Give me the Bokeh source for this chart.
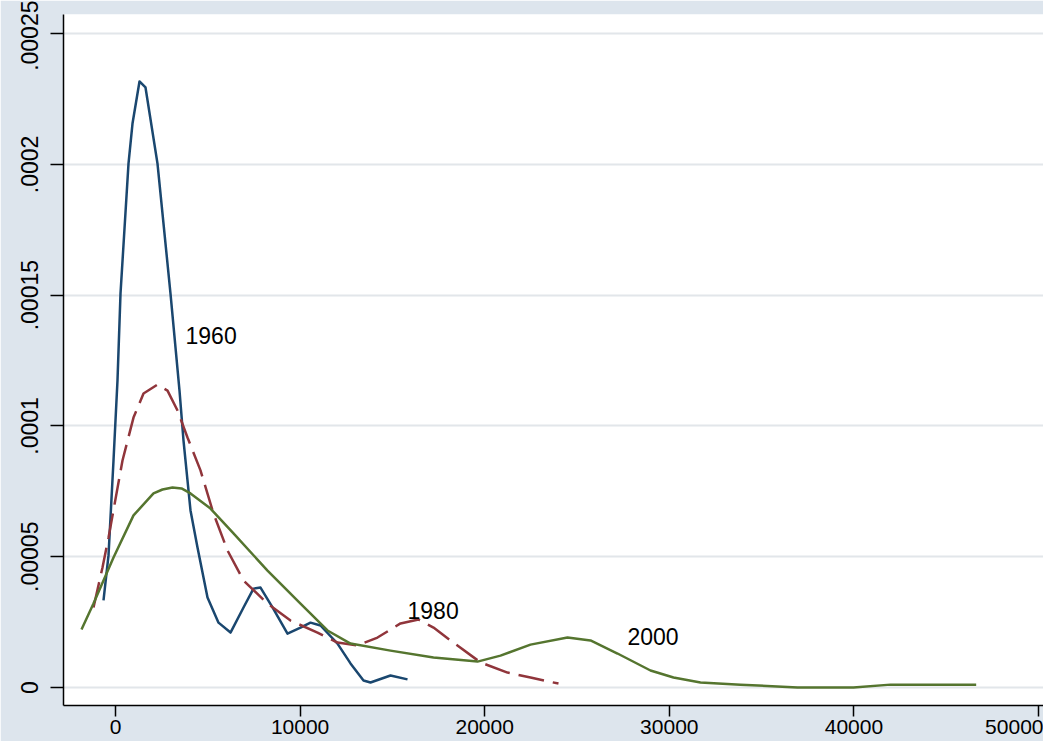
from bokeh.plotting import figure
from bokeh.models import ColumnDataSource, FixedTicker, Range1d
from bokeh.embed import file_html
from bokeh.resources import INLINE
from bokeh.core.properties import value

# ---- data ----
x1960 = [-650, -379, -108, 108, 271, 704, 921, 1300, 1625, 2275, 2979, 3467, 3684, 4063,
         4442, 4984, 5580, 6230, 6934, 7475, 7855, 8505, 9317, 10021, 10563, 11105,
         12026, 12730, 13434, 13813, 14897, 15818]
y1960 = [3.33e-5, 5.05e-5, 8.68e-5, 1.174e-4, 1.506e-4, 2.003e-4, 2.156e-4, 2.317e-4,
         2.294e-4, 2.003e-4, 1.506e-4, 1.135e-4, 9.44e-5, 6.77e-5, 5.35e-5, 3.44e-5,
         2.48e-5, 2.10e-5, 3.06e-5, 3.78e-5, 3.82e-5, 3.06e-5, 2.06e-5, 2.29e-5, 2.48e-5,
         2.37e-5, 1.68e-5, 9.2e-6, 2.7e-6, 1.9e-6, 4.6e-6, 3.1e-6]

x1980 = [-1192, -704, -379, 379, 975, 1517, 2275, 2817, 3359, 3900, 4604, 5309, 6067,
         6934, 8234, 9480, 10942, 12026, 13109, 14193, 15438, 16413, 17226, 18147,
         19772, 21235, 22481, 23997]
y1980 = [3.06e-5, 4.59e-5, 5.73e-5, 8.68e-5, 1.032e-4, 1.124e-4, 1.158e-4, 1.135e-4,
         1.059e-4, 9.56e-5, 8.30e-5, 6.65e-5, 5.24e-5, 4.09e-5, 3.21e-5, 2.56e-5,
         2.10e-5, 1.72e-5, 1.61e-5, 1.91e-5, 2.45e-5, 2.60e-5, 2.29e-5, 1.80e-5,
         9.6e-6, 5.7e-6, 3.8e-6, 1.5e-6]

x2000 = [-1842, -1192, -108, 975, 2058, 2546, 3088, 3575, 4063, 5146, 6392, 8234, 10021,
         11484, 12730, 14897, 17226, 19610, 20855, 22481, 24485, 25731, 27193, 28981,
         30227, 31689, 33856, 36944, 39977, 41981, 46623]
y2000 = [2.22e-5, 3.21e-5, 4.97e-5, 6.58e-5, 7.42e-5, 7.57e-5, 7.65e-5, 7.61e-5, 7.42e-5,
         6.84e-5, 5.89e-5, 4.47e-5, 3.21e-5, 2.18e-5, 1.68e-5, 1.41e-5, 1.15e-5, 9.9e-6,
         1.22e-5, 1.64e-5, 1.91e-5, 1.80e-5, 1.30e-5, 6.5e-6, 3.8e-6, 1.9e-6, 1.1e-6,
         0.0, 0.0, 1.1e-6, 1.1e-6]

label_text = ["1960", "1980", "2000"]
label_x = [3792, 15818, 27735]
label_y = [1.346e-4, 2.94e-5, 1.95e-5]

x_ticks = [0, 10000, 20000, 30000, 40000, 50000]
y_ticks = [0, 0.00005, 0.0001, 0.00015, 0.0002, 0.00025]
y_tick_labels = ["0", ".00005", ".0001", ".00015", ".0002", ".00025"]

# ---- figure ----
p = figure(width=1043, height=741, output_backend="svg", toolbar_location=None,
           x_range=Range1d(-2817, 50270), y_range=Range1d(-6.88e-6, 2.573e-4),
           min_border_left=63, min_border_right=0, min_border_top=14, min_border_bottom=36)
p.border_fill_color = "#dde5ed"
p.background_fill_color = "white"
p.outline_line_color = None

p.xgrid.grid_line_color = None
p.ygrid.grid_line_color = "#e2e6ea"
p.ygrid.grid_line_width = 2
p.ygrid.ticker = FixedTicker(ticks=y_ticks)

p.line(x1960, y1960, line_color="#1a476f", line_width=2.5, line_join="round")
p.line(x1980, y1980, line_color="#90353b", line_width=2.5, line_dash="26 9")
p.line(x2000, y2000, line_color="#55752f", line_width=2.5, line_join="round")

src = ColumnDataSource(dict(x=label_x, y=label_y, t=label_text))
p.text("x", "y", text="t", source=src, text_font=value("Liberation Sans"),
       text_font_size="23px", text_align="left", text_baseline="middle",
       text_color="black")

for ax in (p.xaxis[0], p.yaxis[0]):
    ax.axis_line_color = "black"
    ax.axis_line_width = 1.5
    ax.major_tick_line_color = "black"
    ax.major_tick_line_width = 1.5
    ax.major_tick_out = 13
    ax.major_tick_in = 0
    ax.minor_tick_line_color = None
    ax.major_label_text_font = "Liberation Sans"
    ax.major_label_text_color = "black"

p.xaxis.ticker = FixedTicker(ticks=x_ticks)
p.xaxis.major_tick_out = 11
p.xaxis.major_label_text_font_size = "21px"
p.xaxis.major_label_standoff = 3

p.yaxis.ticker = FixedTicker(ticks=y_ticks)
p.yaxis.major_label_overrides = {t: l for t, l in zip(y_ticks, y_tick_labels)}
p.yaxis.major_label_orientation = "vertical"
p.yaxis.major_label_text_font_size = "23px"
p.yaxis.major_label_standoff = 12

open("out.html", "w").write(file_html(p, INLINE))
